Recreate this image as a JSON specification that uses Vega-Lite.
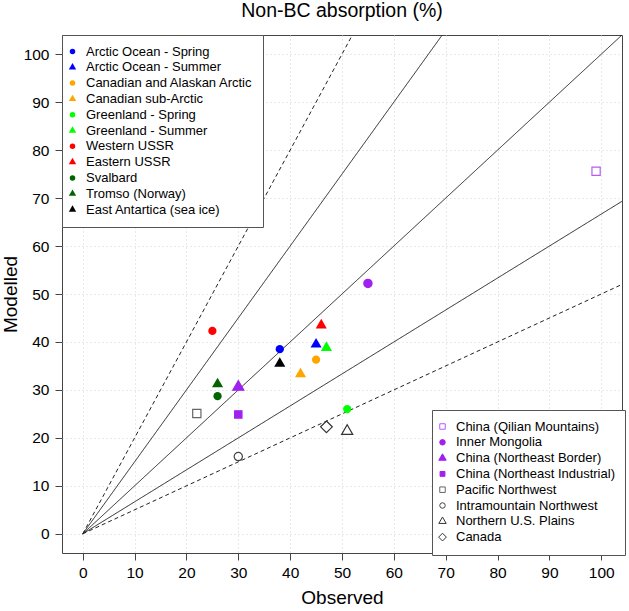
{
  "$schema": "https://vega.github.io/schema/vega-lite/v6.json",
  "width": 560,
  "height": 518,
  "autosize": {"type": "none"},
  "padding": {"left": 62, "top": 35, "right": 7, "bottom": 58},
  "background": "white",
  "title": {
    "text": "Non-BC absorption (%)",
    "font": "Liberation Sans",
    "fontSize": 19.5,
    "fontWeight": "normal",
    "color": "black",
    "anchor": "middle",
    "offset": 13
  },
  "config": {
    "view": {"stroke": "#444", "strokeWidth": 1},
    "font": "Liberation Sans",
    "axis": {
      "labelFont": "Liberation Sans",
      "labelFontSize": 15.5,
      "labelColor": "black",
      "titleFont": "Liberation Sans",
      "titleFontSize": 19,
      "titleFontWeight": "normal",
      "titleColor": "black",
      "domain": false,
      "tickColor": "#444",
      "tickSize": 7,
      "grid": true,
      "gridColor": "#d3d3d3",
      "gridDash": [1, 3],
      "labelFlush": false
    },
    "legend": {
      "labelFont": "Liberation Sans",
      "labelFontSize": 13,
      "labelColor": "black",
      "labelLimit": 300,
      "strokeColor": "#555",
      "fillColor": "white",
      "padding": 10,
      "rowPadding": 1.8,
      "symbolSize": 30,
      "symbolOffset": -6,
      "labelOffset": 7,
      "symbolStrokeWidth": 1,
      "cornerRadius": 0,
      "orient": "none",
      "title": null
    }
  },
  "datasets": {
    "pts": [
      {"grp": 1, "site": "Arctic Ocean - Spring", "obs": 38, "mod": 38.5},
      {"grp": 1, "site": "Arctic Ocean - Summer", "obs": 45, "mod": 39.5},
      {"grp": 1, "site": "Canadian and Alaskan Arctic", "obs": 45, "mod": 36.3},
      {"grp": 1, "site": "Canadian sub-Arctic", "obs": 42, "mod": 33.3},
      {"grp": 1, "site": "Greenland - Spring", "obs": 51, "mod": 26.0},
      {"grp": 1, "site": "Greenland - Summer", "obs": 47, "mod": 38.8},
      {"grp": 1, "site": "Western USSR", "obs": 25, "mod": 42.3},
      {"grp": 1, "site": "Eastern USSR", "obs": 46, "mod": 43.5},
      {"grp": 1, "site": "Svalbard", "obs": 26, "mod": 28.7},
      {"grp": 1, "site": "Tromso (Norway)", "obs": 26, "mod": 31.2},
      {"grp": 1, "site": "East Antartica (sea ice)", "obs": 38, "mod": 35.5},
      {"grp": 2, "site": "China (Qilian Mountains)", "obs": 99, "mod": 75.6},
      {"grp": 2, "site": "Inner Mongolia", "obs": 55, "mod": 52.2},
      {"grp": 2, "site": "China (Northeast Border)", "obs": 30, "mod": 30.6},
      {"grp": 2, "site": "China (Northeast Industrial)", "obs": 30, "mod": 24.9},
      {"grp": 2, "site": "Pacific Northwest", "obs": 22, "mod": 25.1},
      {"grp": 2, "site": "Intramountain Northwest", "obs": 30, "mod": 16.1},
      {"grp": 2, "site": "Northern U.S. Plains", "obs": 51, "mod": 21.4},
      {"grp": 2, "site": "Canada", "obs": 47, "mod": 22.3}
    ],
    "lines": [
      {"ratio": "2:1", "style": "dashed", "obs": 0, "mod": 0},
      {"ratio": "2:1", "style": "dashed", "obs": 52, "mod": 104},
      {"ratio": "3:2", "style": "solid", "obs": 0, "mod": 0},
      {"ratio": "3:2", "style": "solid", "obs": 69.33, "mod": 104},
      {"ratio": "1:1", "style": "solid", "obs": 0, "mod": 0},
      {"ratio": "1:1", "style": "solid", "obs": 104, "mod": 104},
      {"ratio": "2:3", "style": "solid", "obs": 0, "mod": 0},
      {"ratio": "2:3", "style": "solid", "obs": 104, "mod": 69.33},
      {"ratio": "1:2", "style": "dashed", "obs": 0, "mod": 0},
      {"ratio": "1:2", "style": "dashed", "obs": 104, "mod": 52}
    ]
  },
  "encoding": {
    "x": {
      "field": "obs",
      "type": "quantitative",
      "title": "Observed",
      "scale": {"domain": [-4, 104], "nice": false, "zero": false},
      "axis": {"values": [0, 10, 20, 30, 40, 50, 60, 70, 80, 90, 100], "labelPadding": 5, "titlePadding": 8}
    },
    "y": {
      "field": "mod",
      "type": "quantitative",
      "title": "Modelled",
      "scale": {"domain": [-4, 104], "nice": false, "zero": false},
      "axis": {"values": [0, 10, 20, 30, 40, 50, 60, 70, 80, 90, 100], "labelPadding": 6, "titlePadding": 3}
    }
  },
  "layer": [
    {
      "data": {"name": "lines"},
      "mark": {"type": "line", "color": "#222", "strokeWidth": 1, "clip": true},
      "encoding": {
        "detail": {"field": "ratio"},
        "strokeDash": {
          "field": "style",
          "type": "nominal",
          "scale": {"domain": ["solid", "dashed"], "range": [[1, 0], [4, 3]]},
          "legend": null
        }
      }
    },
    {
      "data": {"name": "pts"},
      "transform": [{"filter": "datum.grp == 1"}],
      "mark": {"type": "point", "filled": true, "size": 68, "opacity": 1},
      "encoding": {
        "color": {
          "field": "site",
          "type": "nominal",
          "scale": {
            "domain": ["Arctic Ocean - Spring", "Arctic Ocean - Summer", "Canadian and Alaskan Arctic", "Canadian sub-Arctic", "Greenland - Spring", "Greenland - Summer", "Western USSR", "Eastern USSR", "Svalbard", "Tromso (Norway)", "East Antartica (sea ice)"],
            "range": ["#0000ff", "#0000ff", "#ffa500", "#ffa500", "#00ff00", "#00ff00", "#ff0000", "#ff0000", "#006400", "#006400", "#000000"]
          },
          "legend": {"legendX": 0, "legendY": 0, "offset": 0}
        },
        "shape": {
          "field": "site",
          "type": "nominal",
          "scale": {
            "domain": ["Arctic Ocean - Spring", "Arctic Ocean - Summer", "Canadian and Alaskan Arctic", "Canadian sub-Arctic", "Greenland - Spring", "Greenland - Summer", "Western USSR", "Eastern USSR", "Svalbard", "Tromso (Norway)", "East Antartica (sea ice)"],
            "range": [
              "circle", "M0,-1.555L1.347,0.777L-1.347,0.777Z",
              "circle", "M0,-1.555L1.347,0.777L-1.347,0.777Z",
              "circle", "M0,-1.555L1.347,0.777L-1.347,0.777Z",
              "circle", "M0,-1.555L1.347,0.777L-1.347,0.777Z",
              "circle", "M0,-1.555L1.347,0.777L-1.347,0.777Z",
              "M0,-1.555L1.347,0.777L-1.347,0.777Z"
            ]
          },
          "legend": {"legendX": 0, "legendY": 0, "offset": 0}
        }
      }
    },
    {
      "data": {"name": "pts"},
      "transform": [{"filter": "datum.grp == 2"}],
      "mark": {"type": "point", "size": 68, "opacity": 1, "strokeWidth": 1.2},
      "encoding": {
        "fill": {
          "field": "site",
          "type": "nominal",
          "scale": {
            "domain": ["China (Qilian Mountains)", "Inner Mongolia", "China (Northeast Border)", "China (Northeast Industrial)", "Pacific Northwest", "Intramountain Northwest", "Northern U.S. Plains", "Canada"],
            "range": ["transparent", "#a020f0", "#a020f0", "#a020f0", "transparent", "transparent", "transparent", "transparent"]
          },
          "legend": {"legendX": 370, "legendY": 375, "offset": 0}
        },
        "stroke": {
          "field": "site",
          "type": "nominal",
          "scale": {
            "domain": ["China (Qilian Mountains)", "Inner Mongolia", "China (Northeast Border)", "China (Northeast Industrial)", "Pacific Northwest", "Intramountain Northwest", "Northern U.S. Plains", "Canada"],
            "range": ["#b65cf5", "#a020f0", "#a020f0", "#a020f0", "#666666", "#444444", "#333333", "#333333"]
          },
          "legend": {"legendX": 370, "legendY": 375, "offset": 0}
        },
        "shape": {
          "field": "site",
          "type": "nominal",
          "scale": {
            "domain": ["China (Qilian Mountains)", "Inner Mongolia", "China (Northeast Border)", "China (Northeast Industrial)", "Pacific Northwest", "Intramountain Northwest", "Northern U.S. Plains", "Canada"],
            "range": [
              "square",
              "circle",
              "M0,-1.555L1.347,0.777L-1.347,0.777Z",
              "M-0.886,-0.886L0.886,-0.886L0.886,0.886L-0.886,0.886Z",
              "square",
              "circle",
              "M0,-1.555L1.347,0.777L-1.347,0.777Z",
              "M0,-1.414L1.414,0L0,1.414L-1.414,0Z"
            ]
          },
          "legend": {"legendX": 370, "legendY": 375, "offset": 0}
        }
      }
    }
  ],
  "resolve": {
    "scale": {"color": "independent", "shape": "independent", "fill": "independent", "stroke": "independent", "strokeDash": "independent"},
    "legend": {"color": "independent", "shape": "independent", "fill": "independent", "stroke": "independent"}
  }
}
